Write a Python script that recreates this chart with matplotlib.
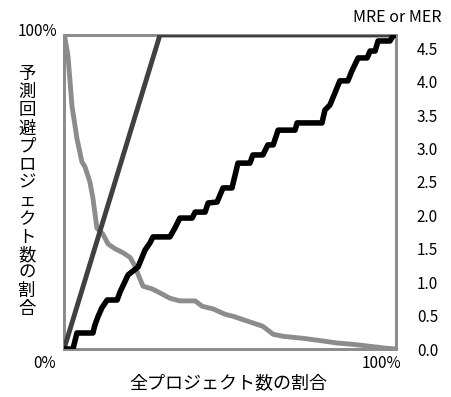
import matplotlib
matplotlib.use("Agg")
import matplotlib.pyplot as plt

plt.rcParams["font.family"] = ["Noto Sans CJK JP", "DejaVu Sans"]

# black staircase: share of avoided projects (left axis, 0-1)
step_x = [0.0, 0.027, 0.039, 0.087, 0.093, 0.102, 0.114, 0.130, 0.160, 0.169,
          0.193, 0.223, 0.244, 0.259, 0.268, 0.319, 0.334, 0.349, 0.386, 0.395,
          0.425, 0.434, 0.461, 0.479, 0.506, 0.524, 0.560, 0.569, 0.599, 0.614,
          0.630, 0.645, 0.696, 0.702, 0.777, 0.786, 0.801, 0.831, 0.855, 0.867,
          0.886, 0.913, 0.922, 0.937, 0.946, 0.982, 0.991, 1.0]
step_y = [0.0, 0.0, 0.051, 0.051, 0.076, 0.102, 0.131, 0.156, 0.156, 0.182,
          0.236, 0.261, 0.315, 0.338, 0.357, 0.357, 0.385, 0.417, 0.417, 0.436,
          0.436, 0.465, 0.468, 0.513, 0.513, 0.592, 0.592, 0.618, 0.618, 0.650,
          0.650, 0.697, 0.697, 0.720, 0.720, 0.761, 0.777, 0.854, 0.854, 0.885,
          0.927, 0.927, 0.949, 0.949, 0.981, 0.981, 0.997, 1.0]

# dark gray reference line (left axis)
ideal_x = [0.0, 0.289, 1.0]
ideal_y = [0.0, 1.0, 1.0]

# light gray MRE curve (right axis)
mre_x = [0.003, 0.012, 0.024, 0.039, 0.054, 0.063, 0.078, 0.087, 0.099, 0.117,
         0.133, 0.154, 0.178, 0.199, 0.214, 0.223, 0.238, 0.265, 0.289, 0.319,
         0.349, 0.395, 0.416, 0.449, 0.485, 0.509, 0.551, 0.599, 0.630, 0.660,
         0.720, 0.780, 0.822, 0.870, 0.922, 0.973, 1.0]
mre_y = [4.65, 4.39, 3.64, 3.15, 2.80, 2.73, 2.50, 2.26, 1.81, 1.72,
         1.57, 1.50, 1.44, 1.37, 1.24, 1.12, 0.94, 0.90, 0.84, 0.76,
         0.72, 0.72, 0.64, 0.60, 0.52, 0.49, 0.42, 0.34, 0.22, 0.19,
         0.16, 0.12, 0.09, 0.07, 0.04, 0.01, 0.0]

right_ticks = [0.0, 0.5, 1.0, 1.5, 2.0, 2.5, 3.0, 3.5, 4.0, 4.5]
ylabel_left = "予測回避プロジェクト数の割合"
xlabel = "全プロジェクト数の割合"

W, H = 452, 397
fig = plt.figure(figsize=(W / 100, H / 100), dpi=100)
ax = fig.add_axes([64 / W, 1 - 349 / H, 332 / W, 314 / H])
ax2 = ax.twinx()

ax2.plot(mre_x, mre_y, color="#8c8c8c", lw=3.5, solid_joinstyle="round", zorder=2)
ax.plot(ideal_x, ideal_y, color="#404040", lw=3.5, zorder=3)
ax.plot(step_x, step_y, color="black", lw=4, zorder=4)

ax.set_zorder(ax2.get_zorder() + 1)
ax.patch.set_visible(False)

ax.set_xlim(0, 1)
ax.set_ylim(0, 1)
ax2.set_ylim(0, 4.7)
ax.set_xticks([])
ax.set_yticks([])
ax2.set_yticks(right_ticks)
ax2.set_yticklabels([f"{t:.1f}" for t in right_ticks], fontsize=11)
ax2.tick_params(axis="y", length=0, pad=15)

for a in (ax, ax2):
    for s in a.spines.values():
        s.set_color("#8c8c8c")
        s.set_linewidth(2)

fig.text(57 / W, 1 - 32 / H, "100%", ha="right", va="center", fontsize=11)
fig.text(45 / W, 1 - 363 / H, "0%", ha="center", va="center", fontsize=11)
fig.text(381 / W, 1 - 363 / H, "100%", ha="center", va="center", fontsize=11)
fig.text(397 / W, 1 - 17 / H, "MRE or MER", ha="center", va="center", fontsize=11.5)
fig.text(228 / W, 1 - 383 / H, xlabel, ha="center", va="center", fontsize=13)

for i, ch in enumerate(ylabel_left):
    fig.text(27 / W, 1 - (74 + i * 18.1) / H, ch, ha="center", va="center",
             fontsize=12.5)

fig.savefig("out.png", dpi=100)
